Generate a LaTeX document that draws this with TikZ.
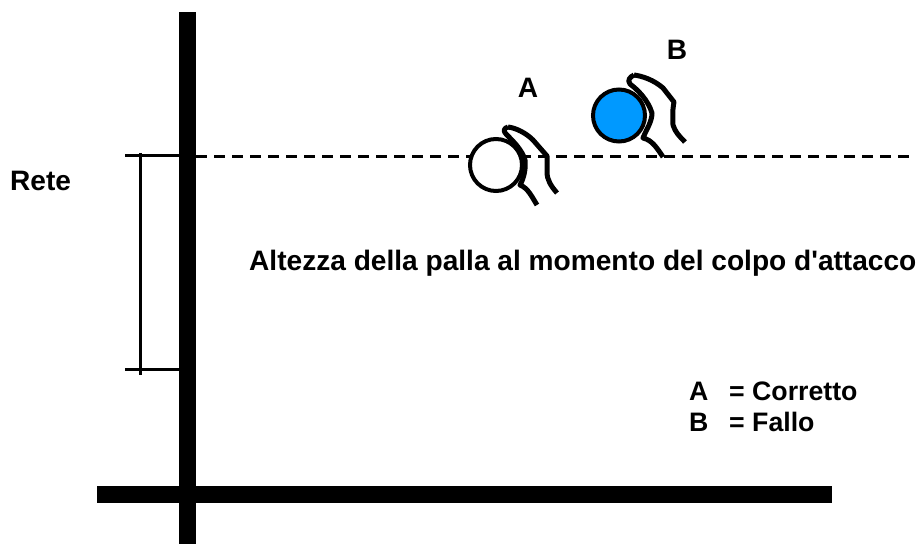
\documentclass[tikz,border=0pt]{standalone}
\usepackage{fontspec}
\setmainfont{Liberation Sans}[Ligatures=TeXOff]
\definecolor{ballblue}{HTML}{0099FF}
\tikzset{
  label text/.style={font=\fontsize{28.1}{32}\selectfont\bfseries, inner sep=0pt, text=black},
  key text/.style={font=\fontsize{26.7}{32}\selectfont\bfseries, inner sep=0pt, text=black},
  heavy bar/.style={fill=black, draw=none},
  thin bar/.style={draw=black, line width=2.3pt},
  net line/.style={draw=black, line width=2.3pt, dash pattern=on 11pt off 7pt},
  ball/.style={circle, draw=black, line width=4pt, minimum size=52pt, inner sep=0pt},
  hand stroke/.style={draw=black, line width=5pt, line join=round}
}
\begin{document}
\begin{tikzpicture}[x=1pt,y=-1pt]
\useasboundingbox (0,0) rectangle (923,545);
\fill[white] (0,0) rectangle (923,545);
% net top and bottom
\coordinate (nt0) at (125,155.5); \coordinate (nt1) at (180,155.5);
\coordinate (nb0) at (125,369.5); \coordinate (nb1) at (180,369.5);
\coordinate (nv0) at (140.5,153); \coordinate (nv1) at (140.5,375);
\coordinate (d0) at (196,156.5); \coordinate (d1) at (910,156.5);
\draw[thin bar] (nt0) -- (nt1);
\draw[thin bar] (nb0) -- (nb1);
\draw[thin bar] (nv0) -- (nv1);
\draw[net line] (d0) -- (d1);
\fill[heavy bar] (179,12) rectangle (196,544);
\fill[heavy bar] (97,486) rectangle (832,503);
% balls and hands
\node[ball, fill=white] (ballA) at (496,165) {};
\node[ball, fill=ballblue] (ballB) at (619,115.5) {};
% hand A
\draw[hand stroke] (508,127) .. controls (516,128) and (526,133) .. (533,140) -- (547,156) -- (547,172) .. controls (547,180) and (551,186) .. (557,193);
\draw[hand stroke] (508,127) .. controls (504,128) and (503,131) .. (506,134) .. controls (514,142) and (522,150) .. (525,160) .. controls (526,168) and (524,178) .. (520,185) .. controls (528,188) and (532,197) .. (537,205);
% hand B
\draw[hand stroke] (634,75) .. controls (642,76) and (654,80) .. (663,88) -- (674,102) .. controls (672,112) and (673,120) .. (673,125) .. controls (675,132) and (680,137) .. (685,142);
\draw[hand stroke] (634,75) .. controls (630,77) and (627,80) .. (630,84) .. controls (638,90) and (648,100) .. (652,113) .. controls (652,122) and (646,130) .. (643,138) .. controls (652,140) and (657,148) .. (663,157);
% labels
\node[label text, anchor=base west] (rete) at (10,190.5) {Rete};
\node[label text, anchor=base] (la) at (528,98) {A};
\node[label text, anchor=base] (lb) at (677,59.5) {B};
\node[label text, anchor=base west] (title) at (249,270) {Altezza della palla al momento del colpo d'attacco};
\node[key text, anchor=base west] (ka) at (689,400) {A};
\node[key text, anchor=base west] (kac) at (729,400) {= Corretto};
\node[key text, anchor=base west] (kb) at (689,431) {B};
\node[key text, anchor=base west] (kbc) at (729,431) {= Fallo};
\end{tikzpicture}
\end{document}
